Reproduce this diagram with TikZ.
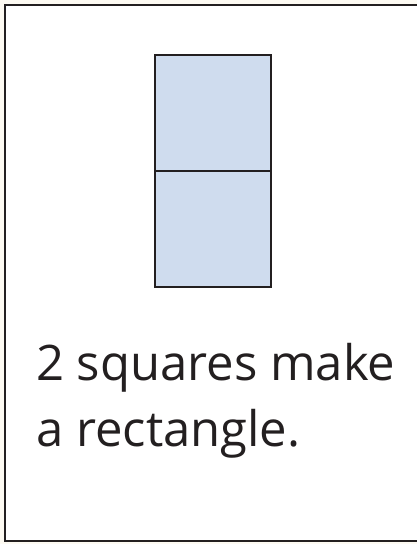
\documentclass[tikz,border=0pt]{standalone}
\usepackage{fontspec}
\setmainfont{Open Sans}
\usepackage{xcolor}
\definecolor{pagebg}{RGB}{253,250,242}
\definecolor{inkline}{RGB}{35,31,32}
\definecolor{squarefill}{RGB}{207,220,238}
\usetikzlibrary{positioning}

\begin{document}
\begin{tikzpicture}[
  x=1pt, y=-1pt,
  unitsq/.style={draw=inkline, line width=2.2pt, fill=squarefill,
    minimum size=116pt, inner sep=0pt, outer sep=0pt},
  caption/.style={anchor=base west, inner sep=0pt, text=inkline,
    font=\fontsize{49}{58}\selectfont},
]
\useasboundingbox (0,0) rectangle (417,544);
\clip (0,0) rectangle (417,544);
\fill[pagebg] (0,0) rectangle (417,544);
% card with its right side cut off
\draw[inkline, line width=2.5pt, fill=white] (430,5) -- (5,5) -- (5,541) -- (430,541);
\node[unitsq] (upper) at (213,113) {};
\node[unitsq, below=0pt of upper] (lower) {};
\node[caption] (line1) at (36,380) {2 squares make};
\node[caption] (line2) at (36,446) {a rectangle.};
\end{tikzpicture}
\end{document}
